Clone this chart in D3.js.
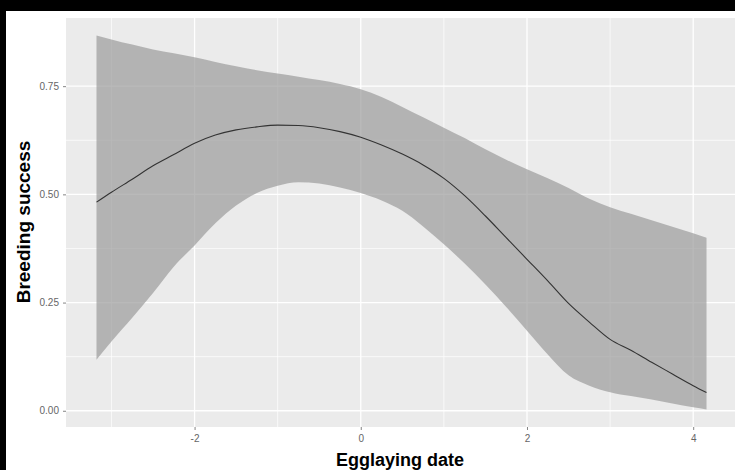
<!DOCTYPE html>
<html>
<head>
<meta charset="utf-8">
<script src="https://cdn.jsdelivr.net/npm/d3@7"></script>
<style>
html,body{margin:0;padding:0;background:#000;}
svg{display:block;}
</style>
</head>
<body>
<script>
// Data
const xValues = [-3.18,-3.0,-2.75,-2.5,-2.25,-2.0,-1.75,-1.5,-1.25,-1.0,-0.75,-0.5,-0.25,0,0.25,0.5,0.75,1.0,1.25,1.5,1.75,2.0,2.25,2.5,2.75,3.0,3.25,3.5,3.75,4.0,4.16];
const fitValues = [0.482,0.505,0.535,0.566,0.592,0.618,0.637,0.649,0.656,0.660,0.659,0.654,0.645,0.632,0.614,0.593,0.568,0.537,0.497,0.450,0.400,0.350,0.300,0.248,0.205,0.165,0.140,0.112,0.085,0.058,0.042];
const upperValues = [0.867,0.858,0.846,0.835,0.826,0.817,0.806,0.796,0.787,0.779,0.772,0.764,0.755,0.743,0.725,0.702,0.678,0.654,0.630,0.604,0.580,0.558,0.537,0.515,0.490,0.470,0.455,0.440,0.425,0.410,0.400];
const lowerValues = [0.118,0.160,0.215,0.272,0.333,0.382,0.433,0.474,0.503,0.520,0.528,0.525,0.516,0.503,0.486,0.462,0.426,0.385,0.340,0.292,0.240,0.185,0.130,0.082,0.058,0.043,0.034,0.026,0.017,0.008,0.003];
const xTicks = [-2,0,2,4];
const xMinorTicks = [-3,-1,1,3];
const yTicks = [0,0.25,0.5,0.75];
const yMinorTicks = [0.125,0.375,0.625];
const xTitle = "Egglaying date";
const yTitle = "Breeding success";

const W = 735, H = 470;
const FONT = "Liberation Sans, Arial, sans-serif";
const svg = d3.select("body").append("svg").attr("width", W).attr("height", H);
svg.append("rect").attr("x",0).attr("y",0).attr("width",W).attr("height",H).attr("fill","#000");
svg.append("rect").attr("x",6).attr("y",11).attr("width",W-6).attr("height",H-11).attr("fill","#fff");

const panel = {left:66, top:18, right:737, bottom:427};
const x = d3.scaleLinear().domain([-3.547, 4.527]).range([panel.left, panel.right]);
const y = d3.scaleLinear().domain([-0.0375, 0.9075]).range([panel.bottom, panel.top]);

const g = svg.append("g");
g.append("rect").attr("x",panel.left).attr("y",panel.top)
 .attr("width",panel.right-panel.left).attr("height",panel.bottom-panel.top).attr("fill","#EBEBEB");

// minor grid
g.selectAll(".ymin").data(yMinorTicks).enter().append("line")
 .attr("x1",panel.left).attr("x2",panel.right).attr("y1",d=>y(d)).attr("y2",d=>y(d))
 .attr("stroke","#fff").attr("stroke-width",0.7);
g.selectAll(".xmin").data(xMinorTicks).enter().append("line")
 .attr("y1",panel.top).attr("y2",panel.bottom).attr("x1",d=>x(d)).attr("x2",d=>x(d))
 .attr("stroke","#fff").attr("stroke-width",0.7);
// major grid
g.selectAll(".ymaj").data(yTicks).enter().append("line")
 .attr("x1",panel.left).attr("x2",panel.right).attr("y1",d=>y(d)).attr("y2",d=>y(d))
 .attr("stroke","#fff").attr("stroke-width",1.3);
g.selectAll(".xmaj").data(xTicks).enter().append("line")
 .attr("y1",panel.top).attr("y2",panel.bottom).attr("x1",d=>x(d)).attr("x2",d=>x(d))
 .attr("stroke","#fff").attr("stroke-width",1.3);

const data = xValues.map((v,i)=>({x:v, fit:fitValues[i], lo:lowerValues[i], hi:upperValues[i]}));

g.append("path").datum(data)
 .attr("d", d3.area().x(d=>x(d.x)).y0(d=>y(d.lo)).y1(d=>y(d.hi)).curve(d3.curveMonotoneX))
 .attr("fill","#9B9B9B").attr("fill-opacity",0.7);

g.append("path").datum(data)
 .attr("d", d3.line().x(d=>x(d.x)).y(d=>y(d.fit)).curve(d3.curveMonotoneX))
 .attr("fill","none").attr("stroke","#333").attr("stroke-width",1.1);

// axes
const xAxis = d3.axisBottom(x).tickValues(xTicks).tickSize(3).tickPadding(5).tickFormat(d3.format("d"));
const xa = svg.append("g").attr("transform",`translate(0,${panel.bottom})`).call(xAxis);
const yAxis = d3.axisLeft(y).tickValues(yTicks).tickSize(3).tickPadding(4).tickFormat(d3.format(".2f"));
const ya = svg.append("g").attr("transform",`translate(${panel.left},0)`).call(yAxis);
[xa,ya].forEach(a=>{
  a.select(".domain").remove();
  a.selectAll(".tick line").attr("stroke","#666").attr("stroke-width",0.8);
  a.selectAll(".tick text").attr("fill","#666").attr("font-family",FONT).attr("font-size",10);
});
xa.selectAll(".tick text").text(d=>d<0 ? "-" + Math.abs(d) : d);

svg.append("text").attr("x",400).attr("y",466).attr("text-anchor","middle")
 .attr("font-family",FONT).attr("font-weight","bold").attr("font-size",18)
 .attr("fill","#000").text(xTitle);
svg.append("text").attr("transform","translate(30,222) rotate(-90)").attr("text-anchor","middle")
 .attr("font-family",FONT).attr("font-weight","bold").attr("font-size",19)
 .attr("fill","#000").text(yTitle);
</script>
</body>
</html>
